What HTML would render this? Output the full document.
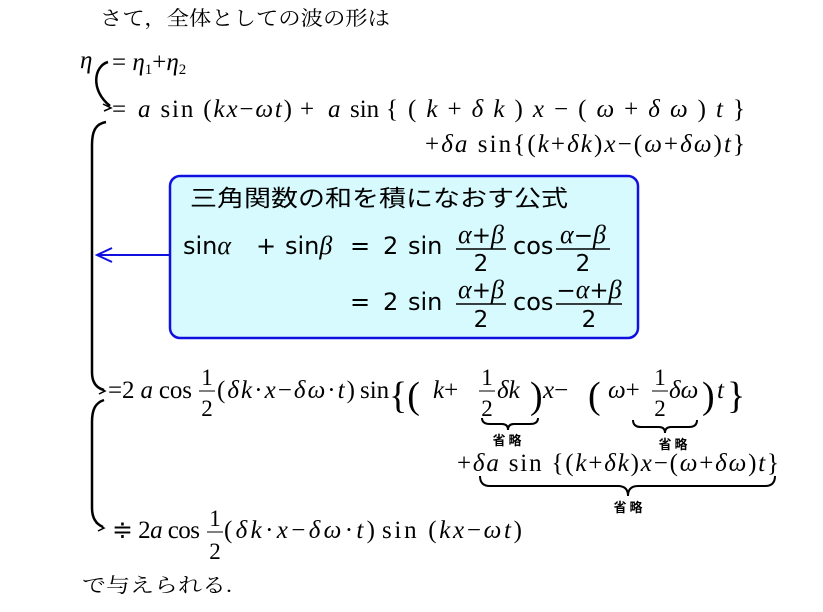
<!DOCTYPE html>
<html><head><meta charset="utf-8"><style>
html,body{margin:0;padding:0;background:#fff;}
svg{display:block;}
.m{font-family:"Liberation Serif",serif;font-size:25px;fill:#000;}
.i{font-style:italic;}
.j{font-family:"Liberation Serif","Noto Serif CJK SC","Noto Sans CJK JP",serif;font-size:20px;fill:#000;}
.b{font-family:"DejaVu Sans","Liberation Sans",sans-serif;font-size:24px;fill:#000;}
.g{font-family:"Liberation Serif",serif;font-style:italic;font-size:26px;}
.f{font-size:23px;}
.p{font-size:38px;}
.sub{font-size:15px;}
.s{font-family:"Noto Sans CJK JP",sans-serif;font-size:13px;font-weight:bold;fill:#000;}
</style></head><body>
<svg width="823" height="612" viewBox="0 0 823 612" xmlns="http://www.w3.org/2000/svg">
<text class="j" x="100" y="25" textLength="290" lengthAdjust="spacingAndGlyphs">さて，全体としての波の形は</text>
<text class="m i" x="80" y="68">η</text>
<text class="m" x="112" y="70">= <tspan class="i">η</tspan><tspan class="sub" dy="4">1</tspan><tspan dy="-4">+</tspan><tspan class="i">η</tspan><tspan class="sub" dy="4">2</tspan></text>
<text class="m" x="112" y="117">=</text>
<text class="m" x="138" y="117" textLength="154" lengthAdjust="spacing"><tspan class="i">a</tspan> sin (<tspan class="i">kx</tspan>−<tspan class="i">ωt</tspan>)</text>
<text class="m" x="300" y="117">+</text>
<text class="m" x="328" y="117"><tspan class="i">a</tspan></text>
<text class="m" x="350" y="117">sin</text>
<text class="m" x="386" y="117" textLength="359" lengthAdjust="spacing">{(<tspan class="i">k</tspan>+<tspan class="i">δk</tspan>)<tspan class="i">x</tspan>−(<tspan class="i">ω</tspan>+<tspan class="i">δω</tspan>)<tspan class="i">t</tspan>}</text>
<text class="m" x="425" y="152" textLength="320" lengthAdjust="spacing">+<tspan class="i">δa</tspan> sin{(<tspan class="i">k</tspan>+<tspan class="i">δk</tspan>)<tspan class="i">x</tspan>−(<tspan class="i">ω</tspan>+<tspan class="i">δω</tspan>)<tspan class="i">t</tspan>}</text>

<rect x="170" y="176" width="468" height="162" rx="10" fill="#d6fafd" stroke="#1010e0" stroke-width="2.5"/>
<text x="190" y="206" font-family="Noto Sans CJK JP,sans-serif" font-size="23" textLength="378" lengthAdjust="spacingAndGlyphs">三角関数の和を積になおす公式</text>
<text class="b" x="183" y="254">sin<tspan class="g">α</tspan></text>
<text class="b" x="256" y="254">+</text>
<text class="b" x="285" y="254">sin<tspan class="g">β</tspan></text>
<text class="b" x="350" y="254">=</text>
<text class="b" x="383" y="254">2</text>
<text class="b" x="408" y="254">sin</text>
<text class="b f" x="481" y="243" text-anchor="middle"><tspan class="g">α</tspan>+<tspan class="g">β</tspan></text>
<line x1="456" y1="249" x2="506" y2="249" stroke="#000" stroke-width="1.5"/>
<text class="b f" x="481" y="271" text-anchor="middle">2</text>
<text class="b" x="513" y="254">cos</text>
<text class="b f" x="583" y="243" text-anchor="middle"><tspan class="g">α</tspan>−<tspan class="g">β</tspan></text>
<line x1="556" y1="249" x2="610" y2="249" stroke="#000" stroke-width="1.5"/>
<text class="b f" x="583" y="271" text-anchor="middle">2</text>
<text class="b" x="350" y="310">=</text>
<text class="b" x="383" y="310">2</text>
<text class="b" x="408" y="310">sin</text>
<text class="b f" x="481" y="298" text-anchor="middle"><tspan class="g">α</tspan>+<tspan class="g">β</tspan></text>
<line x1="456" y1="304" x2="506" y2="304" stroke="#000" stroke-width="1.5"/>
<text class="b f" x="481" y="327" text-anchor="middle">2</text>
<text class="b" x="513" y="310">cos</text>
<text class="b f" x="589" y="298" text-anchor="middle">−<tspan class="g">α</tspan>+<tspan class="g">β</tspan></text>
<line x1="556" y1="304" x2="622" y2="304" stroke="#000" stroke-width="1.5"/>
<text class="b f" x="589" y="327" text-anchor="middle">2</text>

<line x1="169" y1="255" x2="98" y2="255" stroke="#1010e0" stroke-width="2"/>
<path d="M112 248 L97 255 L112 262" fill="none" stroke="#1010e0" stroke-width="2"/>

<g fill="none" stroke="#000" stroke-width="2.5">
<path d="M108 62 C94 66 90 90 110 106"/>
<path d="M103 104 L111 108 L104 111" stroke-width="1.5"/>
<path d="M106 122 C95 124 92 132 92 145 L92 372 C92 382 96 388 104 390"/>
<path d="M97 386 L105 391 L99 394" stroke-width="1.5"/>
<path d="M104 400 C95 403 92 410 92 422 L92 508 C92 518 96 524 103 527"/>
<path d="M96 523 L104 528 L98 531" stroke-width="1.5"/>
</g>

<text class="m" x="108" y="398" textLength="84" lengthAdjust="spacing">=2 <tspan class="i">a</tspan> cos</text>
<text class="m f" x="207" y="385" text-anchor="middle">1</text>
<line x1="199" y1="391" x2="215" y2="391" stroke="#000" stroke-width="1"/>
<text class="m f" x="207" y="416" text-anchor="middle">2</text>
<text class="m" x="217" y="398" textLength="138" lengthAdjust="spacing">(<tspan class="i">δk</tspan>·<tspan class="i">x</tspan>−<tspan class="i">δω</tspan>·<tspan class="i">t</tspan>)</text>
<text class="m" x="360" y="398">sin</text>
<text class="m p" x="389" y="408">{(</text>
<text class="m" x="433" y="398"><tspan class="i">k</tspan>+</text>
<text class="m f" x="487" y="385" text-anchor="middle">1</text>
<line x1="479" y1="391" x2="495" y2="391" stroke="#000" stroke-width="1"/>
<text class="m f" x="487" y="416" text-anchor="middle">2</text>
<text class="m i" x="497" y="398">δk</text>
<text class="m p" x="530" y="408">)</text>
<text class="m" x="543" y="398"><tspan class="i">x</tspan>−</text>
<text class="m p" x="588" y="408">(</text>
<text class="m" x="608" y="398"><tspan class="i">ω</tspan>+</text>
<text class="m f" x="660" y="385" text-anchor="middle">1</text>
<line x1="652" y1="391" x2="668" y2="391" stroke="#000" stroke-width="1"/>
<text class="m f" x="660" y="416" text-anchor="middle">2</text>
<text class="m i" x="669" y="398">δω</text>
<text class="m p" x="702" y="408">)</text>
<text class="m i" x="717" y="398">t</text>
<text class="m p" x="727" y="408">}</text>

<g fill="none" stroke="#000" stroke-width="2">
<path d="M482 418 Q482 424 490 424 L502 424 Q508 424 508 430 Q508 424 514 424 L530 424 Q538 424 538 418"/>
<path d="M633 420 Q633 427 641 427 L659 427 Q665 427 665 433 Q665 427 671 427 L689 427 Q697 427 697 420"/>
<path d="M480 476 Q480 486 490 486 L618 486 Q628 486 628 496 Q628 486 638 486 L765 486 Q775 486 775 476"/>
</g>
<text class="s" x="507" y="445" text-anchor="middle">省 略</text>
<text class="s" x="673" y="449" text-anchor="middle">省 略</text>
<text class="s" x="628" y="512" text-anchor="middle">省 略</text>

<text class="m" x="457" y="471" textLength="322" lengthAdjust="spacing">+<tspan class="i">δa</tspan> sin {(<tspan class="i">k</tspan>+<tspan class="i">δk</tspan>)<tspan class="i">x</tspan>−(<tspan class="i">ω</tspan>+<tspan class="i">δω</tspan>)<tspan class="i">t</tspan>}</text>

<text class="m" x="112" y="538" textLength="88" lengthAdjust="spacing">≑ 2<tspan class="i">a</tspan> cos</text>
<text class="m f" x="215" y="526" text-anchor="middle">1</text>
<line x1="207" y1="532" x2="223" y2="532" stroke="#000" stroke-width="1"/>
<text class="m f" x="215" y="559" text-anchor="middle">2</text>
<text class="m" x="224" y="538" textLength="151" lengthAdjust="spacing">(<tspan class="i">δk</tspan>·<tspan class="i">x</tspan>−<tspan class="i">δω</tspan>·<tspan class="i">t</tspan>)</text>
<text class="m" x="382" y="538" textLength="140" lengthAdjust="spacing">sin (<tspan class="i">kx</tspan>−<tspan class="i">ωt</tspan>)</text>

<text class="j" x="82" y="592" textLength="150" lengthAdjust="spacingAndGlyphs">で与えられる.</text>
</svg>
</body></html>
